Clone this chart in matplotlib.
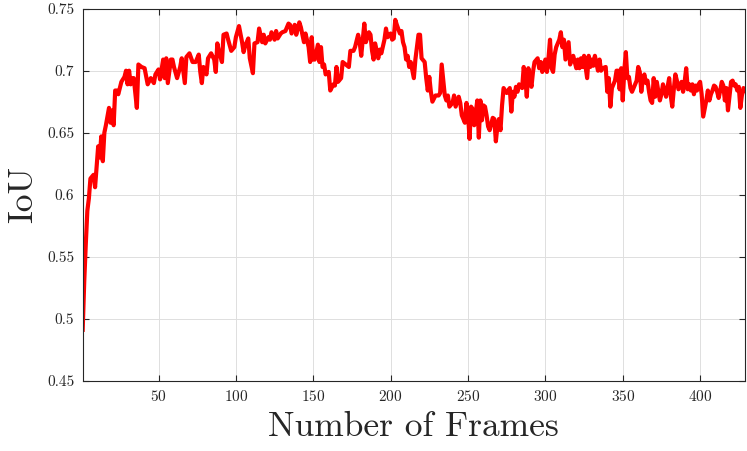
import numpy as np
import matplotlib
matplotlib.use("Agg")
import matplotlib.pyplot as plt
from matplotlib.ticker import FuncFormatter

frames = [1, 2, 3, 4, 5, 6, 8, 9, 11, 12, 13, 14, 15, 16, 18, 19, 20, 21, 22, 23, 24, 26, 28, 29, 30, 31, 32, 33, 34, 36, 37, 39, 41, 43, 45, 47, 48, 50, 51, 53, 54, 55, 56, 58, 59, 60, 62, 64, 65, 67, 68, 70, 72,
          74, 76, 77, 78, 79, 81, 82, 84, 86, 87, 88, 89, 91, 92, 94, 95, 97, 99, 100, 102, 104, 105, 106, 108, 109, 111, 112, 114, 115, 117, 118, 119, 121, 122, 123, 125, 126, 127, 129, 130, 132, 134, 135, 136, 138, 139, 141, 142, 144, 145, 147, 148, 149, 150,
          151, 153, 154, 155, 156, 157, 158, 160, 161, 163, 164, 165, 166, 168, 169, 171, 173, 174, 176, 177, 179, 180, 181, 182, 183, 184, 186, 187, 188, 189, 190, 192, 193, 194, 196, 197, 198, 200, 201, 202, 203, 204, 206, 207, 208, 209, 210, 211, 212, 213, 215, 216, 217, 218, 219, 220, 222, 223, 224, 225, 226, 227, 229, 231, 232, 233,
          235, 236, 237, 238, 240, 241, 242, 244, 245, 246, 248, 249, 250, 251, 252, 253, 254, 256, 257, 258, 259, 260, 261, 262, 263, 264, 266, 267, 268, 269, 270, 271, 272, 273, 275, 276, 277, 278, 279, 280, 281, 282, 283, 285, 286, 287, 288, 289, 290, 291, 292, 293, 295, 296, 297, 298, 300, 301, 302, 303, 304, 305, 306, 307, 309, 310, 311, 312, 313, 315,
          316, 317, 318, 320, 321, 322, 323, 324, 325, 327, 328, 329, 330, 331, 332, 334, 335, 336, 337, 339, 340, 341, 342, 343, 345, 346, 347, 348, 349, 350, 351, 352, 353, 354, 355, 356, 357, 359, 360, 361, 362, 363, 364, 365, 366, 367, 368, 369, 370, 371, 372, 374, 375, 376, 377, 378, 379, 380, 381, 382, 383, 384, 385, 386, 388, 389, 390, 391, 392, 393, 394, 395, 396,
          397, 398, 399, 400, 401, 402, 404, 405, 406, 407, 408, 409, 410, 411, 412, 413, 414, 415, 416, 417, 418, 420, 421, 422, 423, 424, 425, 426, 427, 428, 429]

iou = [0.491, 0.53, 0.56, 0.587, 0.597, 0.613, 0.616, 0.606, 0.639, 0.63, 0.647, 0.627, 0.65, 0.656, 0.67, 0.658, 0.668, 0.656, 0.684, 0.684, 0.681, 0.691, 0.695, 0.7, 0.689, 0.7, 0.689, 0.694, 0.694, 0.67, 0.705, 0.703, 0.702, 0.689, 0.694, 0.69, 0.697, 0.701, 0.693, 0.709, 0.694, 0.71, 0.69, 0.709, 0.709, 0.703, 0.694, 0.703, 0.71, 0.69, 0.711, 0.714, 0.707,
       0.707, 0.713, 0.699, 0.69, 0.703, 0.697, 0.71, 0.714, 0.709, 0.699, 0.722, 0.716, 0.707, 0.729, 0.73, 0.725, 0.716, 0.719, 0.727, 0.736, 0.723, 0.715, 0.72, 0.726, 0.71, 0.698, 0.722, 0.723, 0.734, 0.723, 0.729, 0.722, 0.727, 0.725, 0.731, 0.725, 0.732, 0.726, 0.73, 0.731, 0.732, 0.738, 0.737, 0.73, 0.737, 0.729, 0.739, 0.735, 0.723, 0.73, 0.719, 0.707, 0.727, 0.709,
       0.709, 0.721, 0.707, 0.719, 0.703, 0.705, 0.697, 0.699, 0.684, 0.689, 0.688, 0.703, 0.691, 0.694, 0.707, 0.705, 0.703, 0.716, 0.716, 0.719, 0.729, 0.723, 0.712, 0.725, 0.738, 0.723, 0.731, 0.729, 0.716, 0.709, 0.722, 0.71, 0.717, 0.714, 0.725, 0.734, 0.727, 0.73, 0.725, 0.726, 0.741, 0.737, 0.73, 0.732, 0.723, 0.719, 0.709, 0.712, 0.703, 0.707, 0.694, 0.709, 0.719, 0.729, 0.729, 0.71, 0.707, 0.694, 0.684, 0.695, 0.683, 0.675, 0.68, 0.68, 0.682, 0.705,
       0.68, 0.676, 0.68, 0.671, 0.674, 0.68, 0.671, 0.679, 0.674, 0.664, 0.658, 0.674, 0.665, 0.645, 0.671, 0.669, 0.656, 0.676, 0.646, 0.676, 0.66, 0.672, 0.671, 0.664, 0.655, 0.652, 0.662, 0.661, 0.643, 0.655, 0.661, 0.652, 0.672, 0.686, 0.682, 0.684, 0.686, 0.667, 0.683, 0.679, 0.687, 0.683, 0.689, 0.686, 0.703, 0.694, 0.679, 0.702, 0.694, 0.687, 0.699, 0.707, 0.71, 0.702, 0.707, 0.699, 0.709, 0.699, 0.71, 0.725, 0.702, 0.699, 0.713, 0.719, 0.725, 0.731, 0.719, 0.725, 0.709, 0.723,
       0.705, 0.709, 0.712, 0.702, 0.709, 0.702, 0.71, 0.703, 0.712, 0.694, 0.712, 0.703, 0.709, 0.704, 0.712, 0.7, 0.709, 0.7, 0.702, 0.703, 0.683, 0.694, 0.671, 0.686, 0.692, 0.7, 0.7, 0.685, 0.702, 0.676, 0.7, 0.715, 0.694, 0.695, 0.686, 0.683, 0.686, 0.692, 0.703, 0.699, 0.683, 0.694, 0.697, 0.69, 0.692, 0.683, 0.676, 0.674, 0.694, 0.679, 0.691, 0.676, 0.681, 0.689, 0.684, 0.679, 0.687, 0.694, 0.68, 0.671, 0.685, 0.697, 0.692, 0.685, 0.691, 0.683, 0.691, 0.702, 0.685, 0.689, 0.684, 0.689, 0.681,
       0.688, 0.684, 0.689, 0.691, 0.681, 0.663, 0.676, 0.684, 0.676, 0.681, 0.684, 0.688, 0.687, 0.683, 0.678, 0.684, 0.691, 0.688, 0.676, 0.686, 0.668, 0.691, 0.692, 0.688, 0.689, 0.684, 0.687, 0.67, 0.68, 0.686, 0.684]

x_ticks = [50, 100, 150, 200, 250, 300, 350, 400]
y_ticks = [0.45, 0.5, 0.55, 0.6, 0.65, 0.7, 0.75]
x_label = "Number of Frames"
y_label = "IoU"

plt.rcParams['font.family'] = ['cmr10', 'DejaVu Serif']
plt.rcParams['axes.formatter.use_mathtext'] = True

order = np.argsort(frames)
fx = np.asarray(frames)[order]
fy = np.asarray(iou)[order]

fig = plt.figure(figsize=(7.47, 4.51), dpi=100)
ax = fig.add_axes([0.1107, 0.156, 0.8866, 0.8247])
ax.plot(fx, fy, color='#ff0000', linewidth=3.0, solid_joinstyle='round')

ax.set_xlim(1, 429)
ax.set_ylim(0.45, 0.75)
ax.set_xticks(x_ticks)
ax.set_yticks(y_ticks)
ax.yaxis.set_major_formatter(FuncFormatter(lambda v, p: f"{v:g}"))
ax.grid(True, color='#dedede', linewidth=0.7)
ax.set_axisbelow(True)
ax.tick_params(direction='in', top=True, right=True, length=4, width=0.8,
               colors='#262626', labelsize=11, pad=6)
for s in ax.spines.values():
    s.set_color('#262626')
    s.set_linewidth(0.8)

ax.set_xlabel(x_label, fontsize=25.5, color='#262626', labelpad=5)
ax.set_ylabel(y_label, fontsize=25.5, color='#262626', labelpad=6)

fig.savefig('out.png', dpi=100)
